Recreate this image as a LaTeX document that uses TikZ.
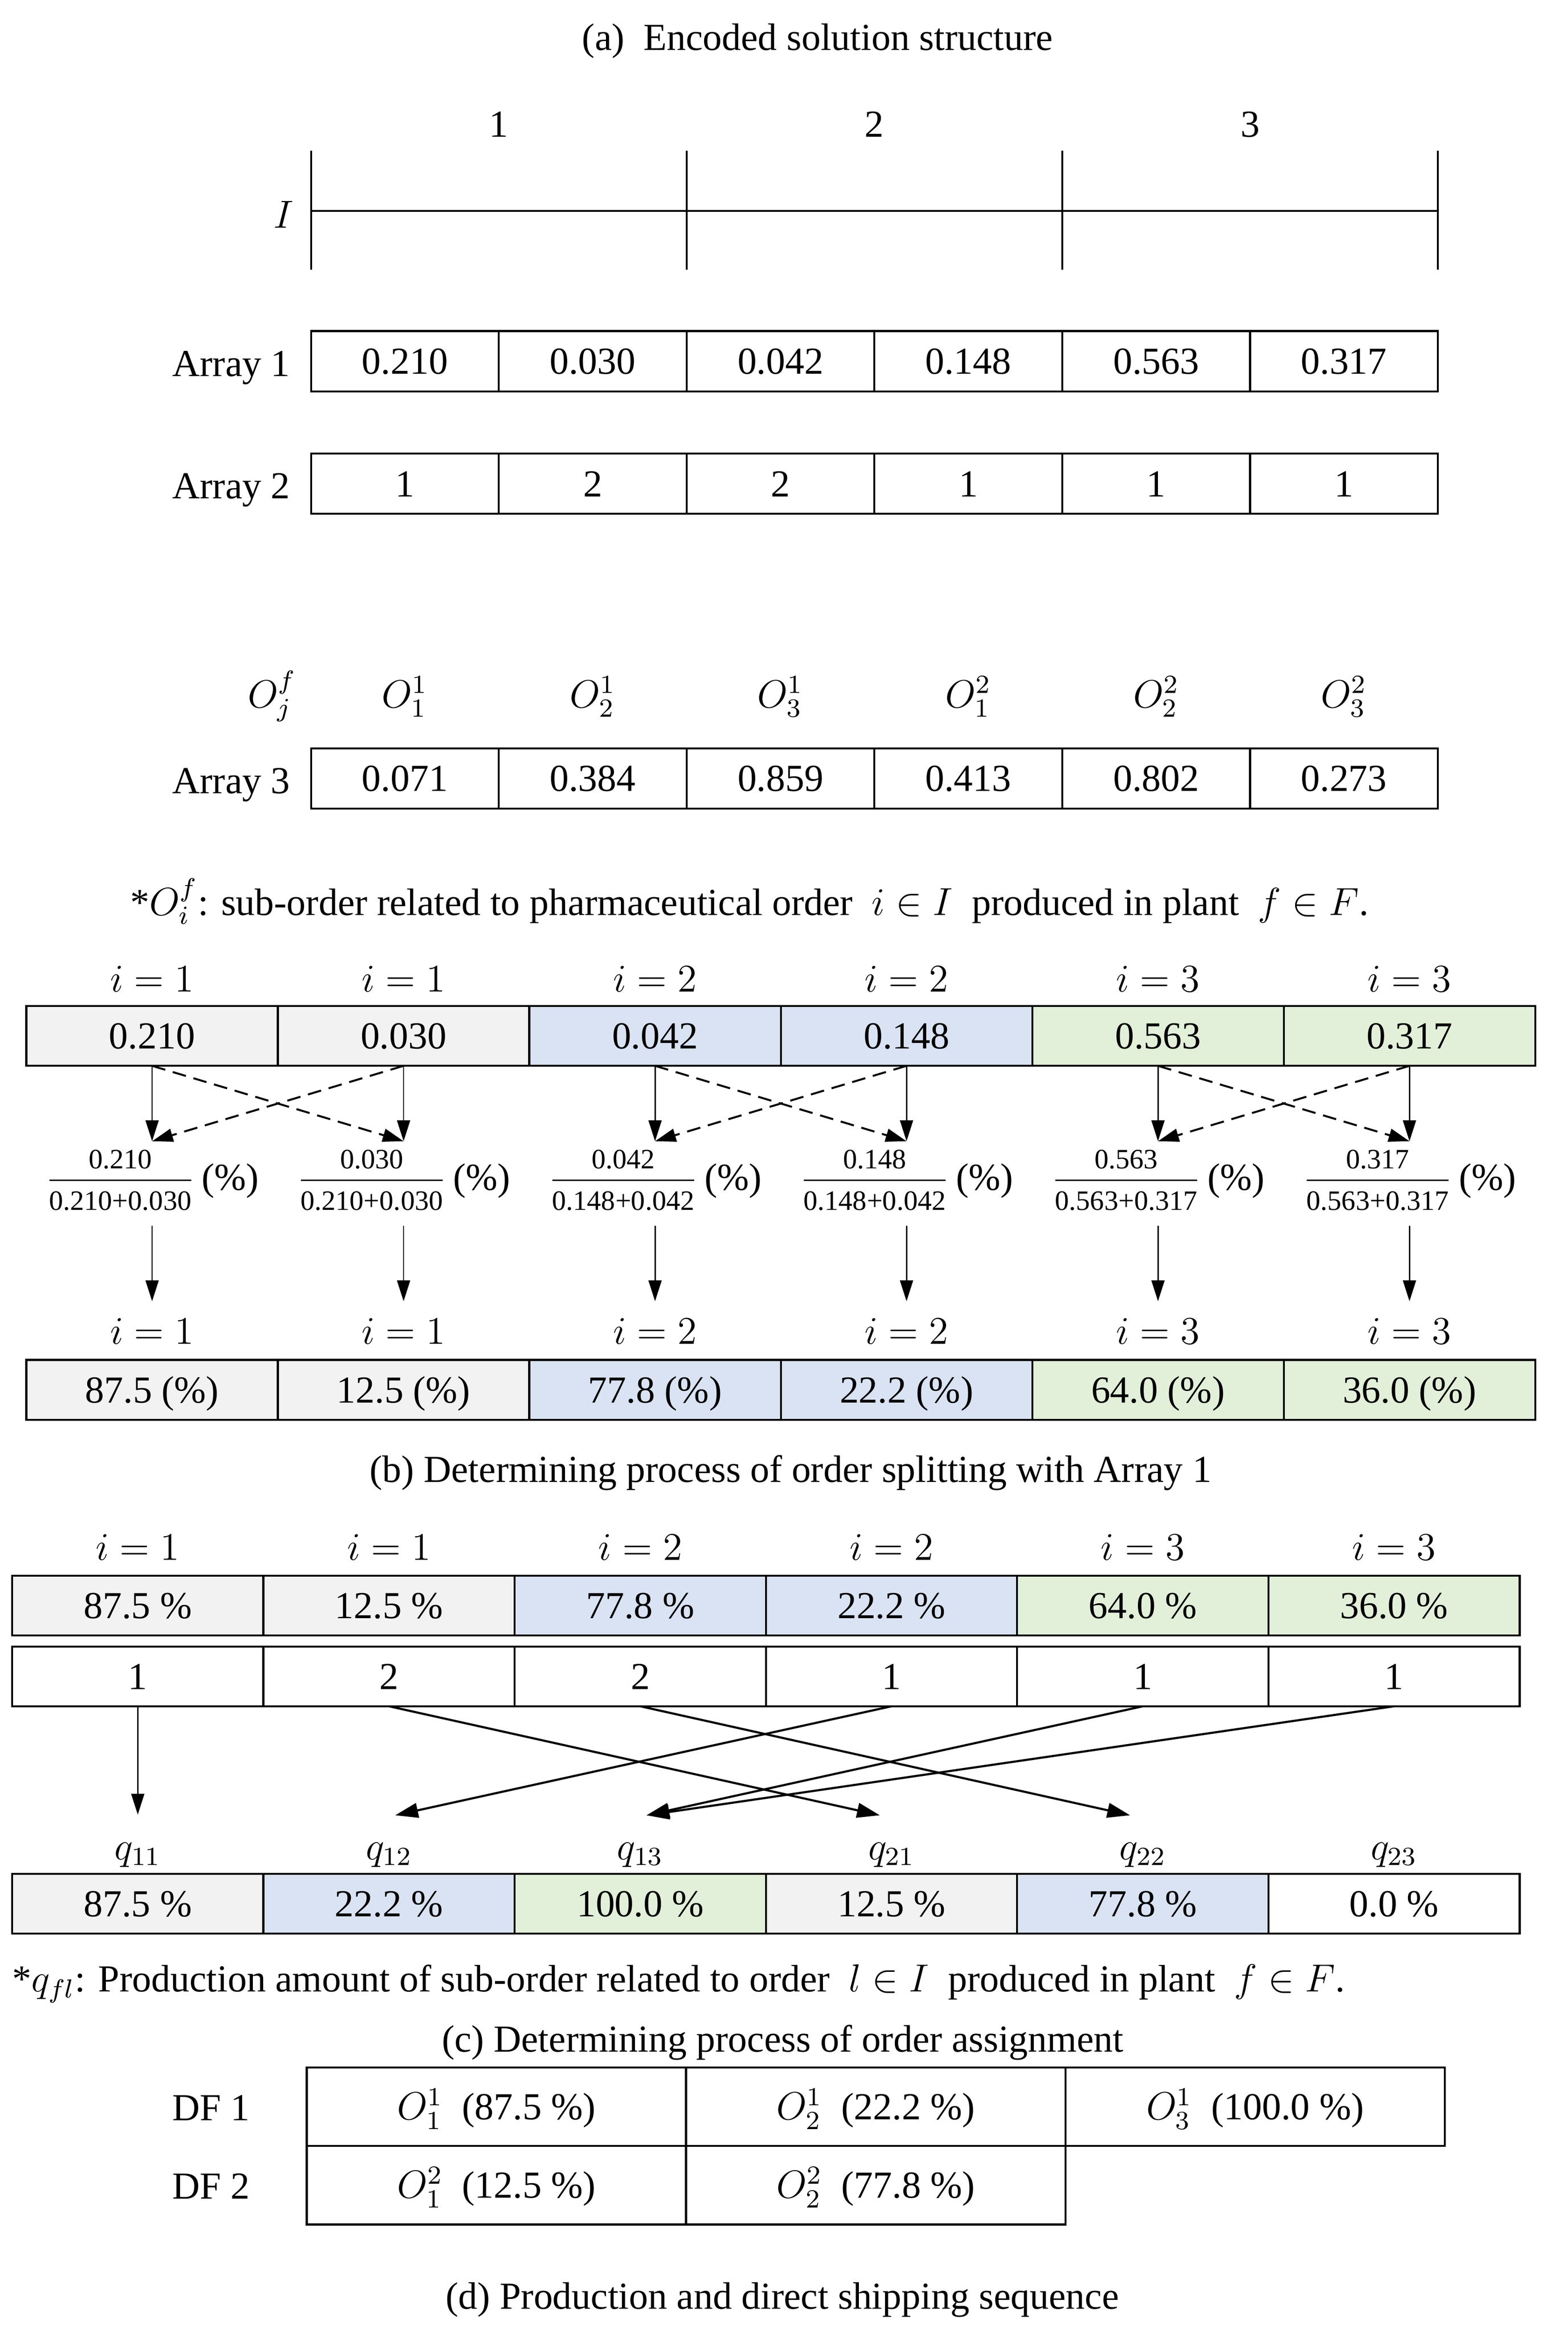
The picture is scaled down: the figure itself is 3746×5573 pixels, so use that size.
\documentclass[tikz,border=0pt]{standalone}
\usepackage{fontspec}
\setmainfont{Liberation Serif}
\usetikzlibrary{arrows.meta}
\definecolor{cgray}{HTML}{F2F2F2}
\definecolor{cblue}{HTML}{DAE3F3}
\definecolor{cgreen}{HTML}{E2F0D9}
\newcommand{\fracsize}{\fontsize{8.6pt}{10pt}\selectfont}
\newcommand{\myfrac}[2]{$\frac{\rule[-3pt]{0pt}{0pt}\mbox{\fracsize #1}}{\rule{0pt}{8.6pt}\mbox{\fracsize #2}}$}
\begin{document}
\begin{tikzpicture}[x=0.1283pt, y=-0.1283pt,
  every node/.style={font=\fontsize{11.7pt}{14pt}\selectfont, inner sep=0pt, outer sep=0pt},
  bx/.style={draw, line width=0.6pt, text height=7.9pt, text depth=0pt},
  cellA/.style={bx, minimum width=57.57pt, minimum height=18.5pt},
  cellB/.style={bx, minimum width=77.08pt, minimum height=18.35pt},
  cellC/.style={bx, minimum width=77.02pt, minimum height=18.3pt},
  cellD/.style={bx, minimum width=116.3pt, minimum height=24.06pt},
  lbl/.style={anchor=base},
  rlbl/.style={anchor=base east},
  ruler/.style={line width=0.6pt},
  arrb/.style={line width=0.4pt, -{Triangle[length=6.4pt,width=4pt]}},
  arrbd/.style={line width=0.6pt, dash pattern=on 4.2pt off 2.4pt, -{Triangle[length=6.4pt,width=4pt]}},
  arrc/.style={line width=0.65pt, -{Triangle[length=7pt,width=4.5pt]}},
]
\useasboundingbox (0,0) rectangle (3746,5573);

% ---------------- (a) ----------------
\node[lbl] (titleA) at (1953,120) {(a)\ \ Encoded solution structure};
\foreach \k in {1,2,3}
  \node[lbl] (col\k) at ({743+897.4*(\k-0.5)},327) {\k};
\draw[ruler] (743,504) -- (3435.2,504);
\foreach \x in {743,1640.4,2537.8,3435.2}
  \draw[ruler] (\x,360) -- (\x,644);
\node (Ilab) at (678,513) {$I$};

\node[rlbl] (lA1) at (693,899) {Array 1};
\foreach \v [count=\k] in {0.210,0.030,0.042,0.148,0.563,0.317}
  \node[cellA] (aA-\k) at ({743+448.7*(\k-0.5)},863) {\v};

\node[rlbl] (lA2) at (693,1191) {Array 2};
\foreach \v [count=\k] in {1,2,2,1,1,1}
  \node[cellA] (aB-\k) at ({743+448.7*(\k-0.5)},1155.5) {\v};

\node[rlbl] (ojf) at (708,1690) {$O_j^f$};
\foreach \f/\j [count=\k] in {1/1,1/2,1/3,2/1,2/2,2/3}
  \node[lbl] (o\k) at ({743+448.7*(\k-0.5)},1690) {$O_{\j}^{\f}$};

\node[rlbl] (lA3) at (693,1895) {Array 3};
\foreach \v [count=\k] in {0.071,0.384,0.859,0.413,0.802,0.273}
  \node[cellA] (aC-\k) at ({743+448.7*(\k-0.5)},1859.5) {\v};

\node[lbl] (noteA) at (1791,2186) {*$O_i^f$: sub-order related to pharmaceutical order\ \ $i\in I$\ \ produced in plant\ \ $f\in F$.};

% ---------------- (b) ----------------
\foreach \i [count=\k] in {1,1,2,2,3,3}
  \node[lbl] (bi\k) at ({63+600.8*(\k-0.5)},2369) {$i=\i$};
\foreach \v/\c [count=\k] in {0.210/cgray,0.030/cgray,0.042/cblue,0.148/cblue,0.563/cgreen,0.317/cgreen}
  \node[cellB, fill=\c] (bU-\k) at ({63+600.8*(\k-0.5)},2474.5) {\v};

\foreach \n/\d [count=\k] in {0.210/0.210+0.030,0.030/0.210+0.030,0.042/0.148+0.042,0.148/0.148+0.042,0.563/0.563+0.317,0.317/0.563+0.317}
  \node (fr\k) at ({63+600.8*(\k-0.5)},2819) {\myfrac{\n}{\d}\,(\%)};

\foreach \k in {1,...,6}
  \draw[arrb] (bU-\k.south) -- ([yshift=2.6pt]bU-\k.south |- fr\k.north);
\foreach \a/\b in {1/2,2/1,3/4,4/3,5/6,6/5}
  \draw[arrbd] (bU-\a.south) -- ([yshift=2.6pt]bU-\b.south |- fr\b.north);

\foreach \i [count=\k] in {1,1,2,2,3,3}
  \node[lbl] (bl\k) at ({63+600.8*(\k-0.5)},3211) {$i=\i$};
\foreach \k in {1,...,6}
  \draw[arrb] ([yshift=-4.6pt]bU-\k.south |- fr\k.south) -- ([yshift=5.3pt]bU-\k.south |- bl\k.north);

\foreach \v/\c [count=\k] in {{87.5 (\%)}/cgray,{12.5 (\%)}/cgray,{77.8 (\%)}/cblue,{22.2 (\%)}/cblue,{64.0 (\%)}/cgreen,{36.0 (\%)}/cgreen}
  \node[cellB, fill=\c] (bL-\k) at ({63+600.8*(\k-0.5)},3320) {\v};

\node[lbl] (capB) at (1889,3541) {(b) Determining process of order splitting with Array 1};

% ---------------- (c) ----------------
\foreach \i [count=\k] in {1,1,2,2,3,3}
  \node[lbl] (ci\k) at ({29+600.3*(\k-0.5)},3727) {$i=\i$};
\foreach \v/\c [count=\k] in {{87.5 \%}/cgray,{12.5 \%}/cgray,{77.8 \%}/cblue,{22.2 \%}/cblue,{64.0 \%}/cgreen,{36.0 \%}/cgreen}
  \node[cellC, fill=\c] (cA-\k) at ({29+600.3*(\k-0.5)},3835) {\v};
\foreach \v [count=\k] in {1,2,2,1,1,1}
  \node[cellC] (cB-\k) at ({29+600.3*(\k-0.5)},4004.5) {\v};

\foreach \s [count=\k] in {11,12,13,21,22,23}
  \node[lbl] (q\s) at ({29+600.3*(\k-0.5)},4442) {$q_{\s}$};

\draw[arrb] (cB-1.south) -- ([yshift=8.6pt]cB-1.south |- q11.north);
\draw[arrc] (cB-2.south) -- ([xshift=-3.6pt,yshift=8.4pt]q21.north);
\draw[arrc] (cB-3.south) -- ([xshift=-3.9pt,yshift=8.4pt]q22.north);
\draw[arrc] (cB-4.south) -- ([xshift=1.9pt,yshift=8.4pt]q12.north);
\draw[arrc] (cB-5.south) -- ([xshift=1.9pt,yshift=8.4pt]q13.north);
\draw[arrc] (cB-6.south) -- ([xshift=1.9pt,yshift=8.4pt]q13.north);

\foreach \v/\c [count=\k] in {{87.5 \%}/cgray,{22.2 \%}/cblue,{100.0 \%}/cgreen,{12.5 \%}/cgray,{77.8 \%}/cblue,{0.0 \%}/white}
  \node[cellC, fill=\c] (cC-\k) at ({29+600.3*(\k-0.5)},4547.5) {\v};

\node[anchor=base west] (noteC) at (30,4758) {*$q_{fl}$: Production amount of sub-order related to order\ \ $l\in I$\ \ produced in plant\ \ $f\in F$.};
\node[lbl] (capC) at (1870,4901) {(c) Determining process of order assignment};

% ---------------- (d) ----------------
\node[rlbl] (df1) at (597,5065) {DF 1};
\node[rlbl] (df2) at (597,5253) {DF 2};
\node[cellD] (d11) at (1186,5032.5) {$O_1^1$\ \ (87.5 \%)};
\node[cellD] (d12) at (2092.3,5032.5) {$O_2^1$\ \ (22.2 \%)};
\node[cellD] (d13) at (2998.6,5032.5) {$O_3^1$\ \ (100.0 \%)};
\node[cellD] (d21) at (1186,5220) {$O_1^2$\ \ (12.5 \%)};
\node[cellD] (d22) at (2092.3,5220) {$O_2^2$\ \ (77.8 \%)};
\node[lbl] (capD) at (1869,5515) {(d) Production and direct shipping sequence};
\end{tikzpicture}
\end{document}
